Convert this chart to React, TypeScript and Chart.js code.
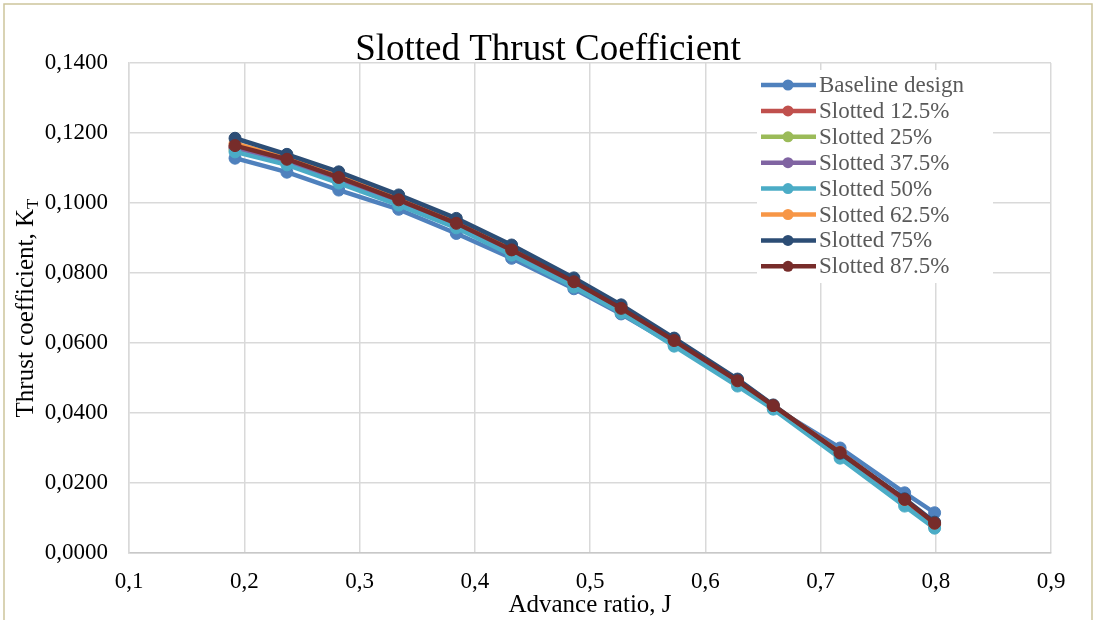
import React, { useEffect, useRef } from "react";
import { Chart, registerables } from "chart.js";

Chart.register(...registerables);

const advanceRatio = [0.192, 0.237, 0.282, 0.334, 0.384, 0.432, 0.486, 0.527, 0.573, 0.628, 0.659, 0.717, 0.773, 0.799];

const baseline = [0.1128, 0.1088, 0.1037, 0.0982, 0.0913, 0.0842, 0.0755, 0.0683, 0.0595, 0.0487, 0.0417, 0.0300, 0.0172, 0.0115];
const slotted125 = [0.1160, 0.1120, 0.1068, 0.1004, 0.0937, 0.0861, 0.0770, 0.0695, 0.0603, 0.0489, 0.0419, 0.0283, 0.0150, 0.0082];
const slotted25 = [0.1152, 0.1114, 0.1062, 0.0999, 0.0933, 0.0857, 0.0766, 0.0691, 0.0598, 0.0484, 0.0416, 0.0278, 0.0144, 0.0077];
const slotted375 = [0.1158, 0.1118, 0.1066, 0.1002, 0.0936, 0.0860, 0.0769, 0.0694, 0.0601, 0.0487, 0.0418, 0.0281, 0.0148, 0.0080];
const slotted50 = [0.1146, 0.1109, 0.1057, 0.0994, 0.0929, 0.0851, 0.0760, 0.0686, 0.0591, 0.0477, 0.0411, 0.0271, 0.0134, 0.0071];
const slotted625 = [0.1170, 0.1128, 0.1077, 0.1012, 0.0945, 0.0869, 0.0778, 0.0702, 0.0609, 0.0494, 0.0422, 0.0287, 0.0153, 0.0086];
const slotted75 = [0.1185, 0.1139, 0.1089, 0.1023, 0.0956, 0.0880, 0.0786, 0.0709, 0.0614, 0.0497, 0.0423, 0.0285, 0.0155, 0.0088];
const slotted875 = [0.1164, 0.1125, 0.1073, 0.1009, 0.0942, 0.0866, 0.0775, 0.0699, 0.0607, 0.0492, 0.0421, 0.0287, 0.0153, 0.0085];

const seriesLabels = [
  "Baseline design",
  "Slotted 12.5%",
  "Slotted 25%",
  "Slotted 37.5%",
  "Slotted 50%",
  "Slotted 62.5%",
  "Slotted 75%",
  "Slotted 87.5%",
];
const seriesValues = [baseline, slotted125, slotted25, slotted375, slotted50, slotted625, slotted75, slotted875];
const seriesColors = ["#4F81BD", "#C0504D", "#9BBB59", "#8064A2", "#4BACC6", "#F79646", "#2C4D75", "#772C2A"];

const chartTitle = "Slotted Thrust Coefficient";
const xTitle = "Advance ratio, J";
const yTitleMain = "Thrust coefficient, K";
const yTitleSub = "T";

const FONT = "'Liberation Serif', 'Times New Roman', serif";

const decorPlugin = {
  id: "decor",
  beforeDraw(chart: any) {
    const ctx = chart.ctx;
    ctx.save();
    ctx.fillStyle = "#ffffff";
    ctx.fillRect(0, 0, chart.width, chart.height);
    ctx.restore();
  },
  afterDraw(chart: any) {
    const ctx = chart.ctx;
    const area = chart.chartArea;
    ctx.save();
    // outer border
    ctx.strokeStyle = "#cdc59c";
    ctx.lineWidth = 1.5;
    ctx.strokeRect(4, 4, chart.width - 8, chart.height + 40);

    // title
    ctx.fillStyle = "#000000";
    ctx.font = `37px ${FONT}`;
    ctx.textAlign = "center";
    ctx.textBaseline = "alphabetic";
    ctx.fillText(chartTitle, chart.width / 2, 60);

    // x title
    ctx.font = `25px ${FONT}`;
    ctx.fillText(xTitle, (area.left + area.right) / 2, 612);

    // y title with subscript
    ctx.save();
    const cy = (area.top + area.bottom) / 2;
    ctx.translate(33, cy);
    ctx.rotate(-Math.PI / 2);
    ctx.font = `25px ${FONT}`;
    const mainW = ctx.measureText(yTitleMain).width;
    ctx.font = `17px ${FONT}`;
    const subW = ctx.measureText(yTitleSub).width;
    const total = mainW + subW;
    ctx.textAlign = "left";
    ctx.font = `25px ${FONT}`;
    ctx.fillText(yTitleMain, -total / 2, 0);
    ctx.font = `17px ${FONT}`;
    ctx.fillText(yTitleSub, -total / 2 + mainW, 5);
    ctx.restore();

    // legend
    const lx = 757;
    const ly = 70;
    const lw = 236;
    const lh = 213;
    ctx.fillStyle = "#ffffff";
    ctx.fillRect(lx, ly, lw, lh);
    ctx.font = `23px ${FONT}`;
    ctx.textAlign = "left";
    ctx.textBaseline = "middle";
    chart.data.datasets.forEach((ds: any, i: number) => {
      const y = 85 + i * 25.9;
      ctx.strokeStyle = ds.borderColor;
      ctx.lineWidth = 4.5;
      ctx.beginPath();
      ctx.moveTo(761, y);
      ctx.lineTo(816, y);
      ctx.stroke();
      ctx.fillStyle = ds.borderColor;
      ctx.beginPath();
      ctx.arc(788, y, 5.5, 0, Math.PI * 2);
      ctx.fill();
      ctx.fillStyle = "#595959";
      ctx.fillText(ds.label, 819, y + 1);
    });
    ctx.restore();
  },
};

export default function App() {
  const canvasRef = useRef<HTMLCanvasElement | null>(null);

  useEffect(() => {
    document.body.style.margin = "0";
    const canvas = canvasRef.current;
    if (!canvas) return;
    const datasets = seriesValues.map((vals, i) => ({
      label: seriesLabels[i],
      data: vals.map((v, k) => ({ x: advanceRatio[k], y: v })),
      borderColor: seriesColors[i],
      backgroundColor: seriesColors[i],
      pointBackgroundColor: seriesColors[i],
      pointBorderColor: seriesColors[i],
      borderWidth: 4.5,
      pointRadius: 6,
      pointBorderWidth: 1,
      tension: 0,
      fill: false,
      order: seriesValues.length - 1 - i,
    }));
    const chart = new Chart(canvas, {
      type: "line",
      data: { datasets },
      plugins: [decorPlugin],
      options: {
        responsive: false,
        animation: false,
        devicePixelRatio: 1,
        layout: { padding: { top: 63, right: 45, left: 0, bottom: 0 } },
        plugins: {
          legend: { display: false },
          title: { display: false },
          tooltip: { enabled: false },
        },
        scales: {
          x: {
            type: "linear",
            min: 0.1,
            max: 0.9,
            afterFit: (scale: any) => {
              scale.height = 67;
            },
            ticks: {
              stepSize: 0.1,
              padding: 15,
              color: "#000000",
              font: { family: FONT, size: 23 },
              callback: (v: any) => Number(v).toFixed(1).replace(".", ","),
            },
            grid: { color: "#d9d9d9", lineWidth: 1.5, drawTicks: false },
            border: { color: "#c8c8c8", width: 1.5 },
          },
          y: {
            type: "linear",
            min: 0,
            max: 0.14,
            afterFit: (scale: any) => {
              scale.width = 129;
            },
            ticks: {
              stepSize: 0.02,
              padding: 21,
              color: "#000000",
              font: { family: FONT, size: 23 },
              callback: (v: any) => Number(v).toFixed(4).replace(".", ","),
            },
            grid: { color: "#d9d9d9", lineWidth: 1.5, drawTicks: false },
            border: { color: "#d9d9d9", width: 1.5 },
          },
        },
      },
    });
    return () => chart.destroy();
  }, []);

  return (
    <div style={{ width: 1096, height: 620 }}>
      <canvas ref={canvasRef} width={1096} height={620} style={{ display: "block" }} />
    </div>
  );
}
